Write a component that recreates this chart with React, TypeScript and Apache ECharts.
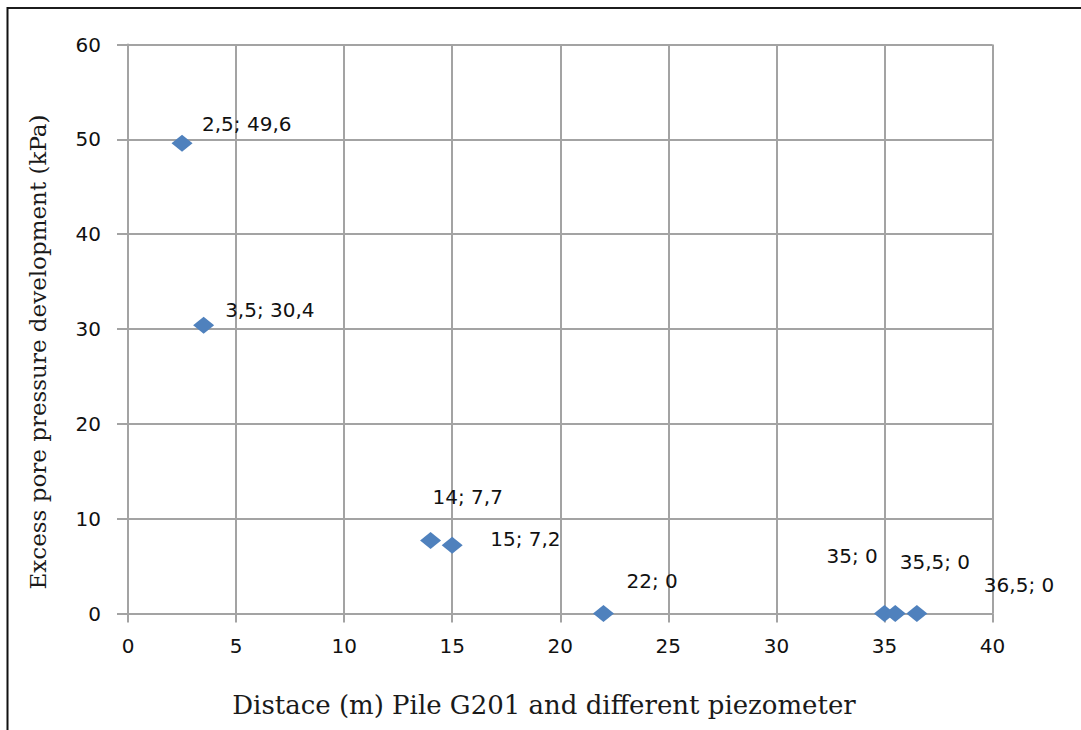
import React, { useEffect, useRef } from "react";
import * as echarts from "echarts";

// Distance from pile G201 to each piezometer (m) and the excess pore pressure measured (kPa)
const distances = [2.5, 3.5, 14, 15, 22, 35, 35.5, 36.5];
const pressures = [49.6, 30.4, 7.7, 7.2, 0, 0, 0, 0];

const xTitle = "Distace (m) Pile G201 and different piezometer";
const yTitle = "Excess pore pressure development (kPa)";

// Where each point's label sits, relative to the marker centre (px)
const labelOffsets: [number, number][] = [
  [20, -19],
  [21.5, -15],
  [2, -43.5],
  [38, -6],
  [23, -32.5],
  [-58, -57.5],
  [4.5, -51.5],
  [67, -29],
];

const fmt = (v: number) => String(v).replace(".", ",");

export default function App() {
  const ref = useRef<HTMLDivElement>(null);

  useEffect(() => {
    if (!ref.current) return;
    const chart = echarts.init(ref.current, undefined, { renderer: "svg" });

    const gridColor = "#a3a3a3";
    const tickFont = {
      fontFamily: "DejaVu Sans",
      fontSize: 20,
      color: "#111",
    };

    const data = distances.map((x, i) => ({
      value: [x, pressures[i]],
      label: {
        offset: labelOffsets[i],
      },
    }));

    chart.setOption({
      animation: false,
      backgroundColor: "#fff",
      grid: { left: 128, right: 88.5, top: 44.5, bottom: 116.5 },
      xAxis: {
        type: "value",
        min: 0,
        max: 40,
        interval: 5,
        axisLine: { show: true, lineStyle: { color: gridColor, width: 2 } },
        axisTick: { show: true, length: 9, lineStyle: { color: gridColor, width: 2 } },
        splitLine: { show: true, lineStyle: { color: gridColor, width: 2 } },
        axisLabel: { ...tickFont, margin: 22 },
      },
      yAxis: {
        type: "value",
        min: 0,
        max: 60,
        interval: 10,
        axisLine: { show: true, lineStyle: { color: gridColor, width: 2 } },
        axisTick: { show: true, length: 11, lineStyle: { color: gridColor, width: 2 } },
        splitLine: { show: true, lineStyle: { color: gridColor, width: 2 } },
        axisLabel: { ...tickFont, margin: 27 },
      },
      series: [
        {
          type: "scatter",
          symbol: "diamond",
          symbolSize: [21, 17],
          itemStyle: { color: "#4f81bd", opacity: 1 },
          label: {
            show: true,
            position: "inside",
            align: "left",
            verticalAlign: "middle",
            fontFamily: "DejaVu Sans",
            fontSize: 20,
            color: "#111",
            formatter: (p: any) => `${fmt(p.value[0])}; ${fmt(p.value[1])}`,
          },
          data,
        },
      ],
      graphic: [
        {
          type: "line",
          shape: { x1: 7.5, y1: 8, x2: 1081, y2: 8 },
          style: { stroke: "#1c1c1c", lineWidth: 2 },
        },
        {
          type: "line",
          shape: { x1: 7.5, y1: 7, x2: 7.5, y2: 730 },
          style: { stroke: "#111", lineWidth: 2 },
        },
        {
          type: "text",
          x: 544,
          y: 705,
          style: {
            text: xTitle,
            fontFamily: "DejaVu Serif",
            fontSize: 26,
            fill: "#1a1a1a",
            align: "center",
            verticalAlign: "middle",
          },
        },
        {
          type: "text",
          x: 38,
          y: 352,
          rotation: Math.PI / 2,
          style: {
            text: yTitle,
            fontFamily: "DejaVu Serif",
            fontSize: 23,
            fill: "#1a1a1a",
            align: "center",
            verticalAlign: "middle",
          },
        },
      ],
    });

    return () => chart.dispose();
  }, []);

  return (
    <div
      ref={ref}
      style={{ position: "absolute", left: 0, top: 0, width: 1081, height: 730 }}
    />
  );
}
